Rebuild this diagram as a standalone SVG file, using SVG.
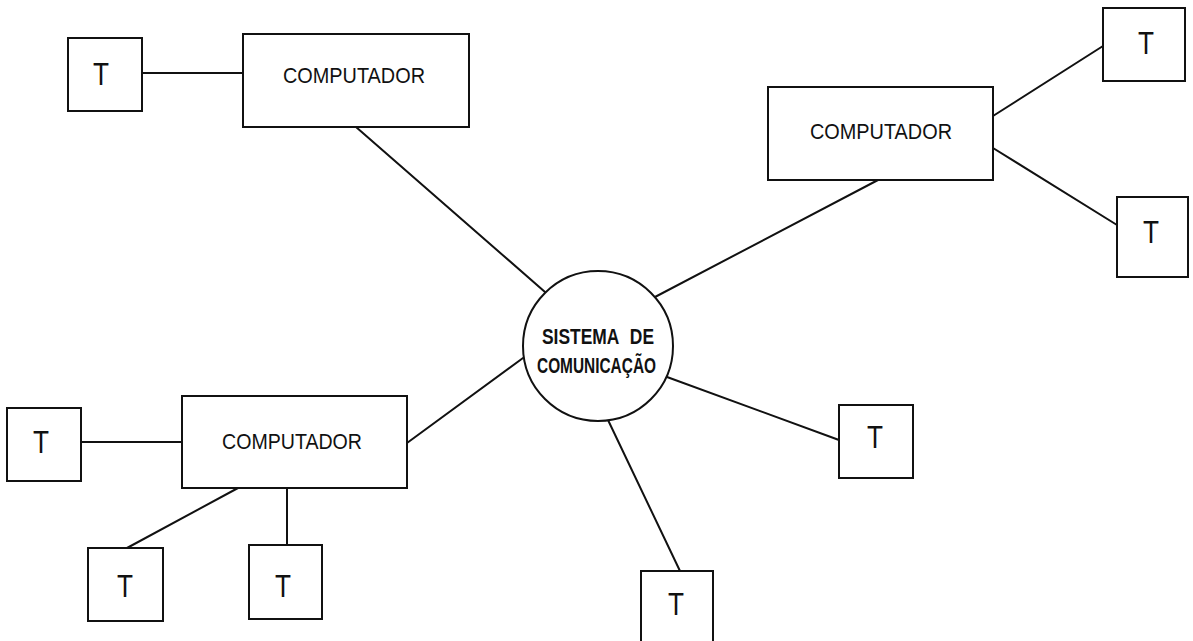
<svg xmlns="http://www.w3.org/2000/svg" width="1193" height="641" viewBox="0 0 1193 641">
  <style>
    .box { fill: #fff; stroke: #111; stroke-width: 2; }
    .link { stroke: #111; stroke-width: 2; fill: none; stroke-linecap: round; }
    .lbl { font-family: "Liberation Sans", Arial, sans-serif; font-size: 22px; fill: #111; text-anchor: middle; }
    .t { font-family: "Liberation Sans", Arial, sans-serif; font-size: 31px; fill: #111; text-anchor: middle; }
    .hub { font-family: "Liberation Sans", Arial, sans-serif; font-size: 22px; font-weight: bold; fill: #111; text-anchor: middle; }
  </style>
  <rect width="1193" height="641" fill="#fff"/>

  <!-- connectors -->
  <g id="connectors">
    <line class="link" x1="142" y1="73" x2="243" y2="73"/>
    <line class="link" x1="356" y1="127" x2="545" y2="292"/>
    <line class="link" x1="878" y1="180" x2="655" y2="297"/>
    <line class="link" x1="993" y1="116" x2="1103" y2="46"/>
    <line class="link" x1="993" y1="148" x2="1117" y2="225"/>
    <line class="link" x1="407" y1="443" x2="523" y2="358"/>
    <line class="link" x1="667" y1="377" x2="839" y2="440"/>
    <line class="link" x1="608" y1="420" x2="680" y2="571"/>
    <line class="link" x1="81" y1="442" x2="182" y2="442"/>
    <line class="link" x1="238" y1="488" x2="127" y2="548"/>
    <line class="link" x1="287" y1="488" x2="287" y2="545"/>
  </g>

  <!-- central hub -->
  <g id="hub">
    <circle cx="598" cy="346" r="75" fill="#fff" stroke="#111" stroke-width="2"/>
    <text class="hub" x="598" y="344" word-spacing="8" textLength="112" lengthAdjust="spacingAndGlyphs">SISTEMA DE</text>
    <text class="hub" x="596.5" y="373" textLength="119" lengthAdjust="spacingAndGlyphs">COMUNICAÇÃO</text>
  </g>

  <!-- computers -->
  <g id="computer-1">
    <rect class="box" x="243" y="34" width="226" height="93"/>
    <text class="lbl" x="354" y="83" textLength="142" lengthAdjust="spacingAndGlyphs">COMPUTADOR</text>
  </g>
  <g id="computer-2">
    <rect class="box" x="768" y="87" width="225" height="93"/>
    <text class="lbl" x="881" y="139" textLength="142" lengthAdjust="spacingAndGlyphs">COMPUTADOR</text>
  </g>
  <g id="computer-3">
    <rect class="box" x="182" y="396" width="225" height="92"/>
    <text class="lbl" x="292" y="449" textLength="140" lengthAdjust="spacingAndGlyphs">COMPUTADOR</text>
  </g>

  <!-- terminals -->
  <g id="terminal-1">
    <rect class="box" x="68" y="38" width="74" height="73"/>
    <text class="t" x="101" y="85" textLength="16" lengthAdjust="spacingAndGlyphs">T</text>
  </g>
  <g id="terminal-2">
    <rect class="box" x="1103" y="8" width="82" height="73"/>
    <text class="t" x="1146" y="54" textLength="16" lengthAdjust="spacingAndGlyphs">T</text>
  </g>
  <g id="terminal-3">
    <rect class="box" x="1117" y="197" width="71" height="80"/>
    <text class="t" x="1151" y="243" textLength="16" lengthAdjust="spacingAndGlyphs">T</text>
  </g>
  <g id="terminal-4">
    <rect class="box" x="839" y="405" width="74" height="73"/>
    <text class="t" x="875" y="448" textLength="16" lengthAdjust="spacingAndGlyphs">T</text>
  </g>
  <g id="terminal-5">
    <rect class="box" x="641" y="571" width="72" height="74"/>
    <text class="t" x="676" y="615" textLength="16" lengthAdjust="spacingAndGlyphs">T</text>
  </g>
  <g id="terminal-6">
    <rect class="box" x="7" y="408" width="74" height="73"/>
    <text class="t" x="41" y="453" textLength="16" lengthAdjust="spacingAndGlyphs">T</text>
  </g>
  <g id="terminal-7">
    <rect class="box" x="88" y="548" width="75" height="73"/>
    <text class="t" x="125" y="597" textLength="16" lengthAdjust="spacingAndGlyphs">T</text>
  </g>
  <g id="terminal-8">
    <rect class="box" x="249" y="545" width="73" height="74"/>
    <text class="t" x="283" y="597" textLength="16" lengthAdjust="spacingAndGlyphs">T</text>
  </g>
</svg>
